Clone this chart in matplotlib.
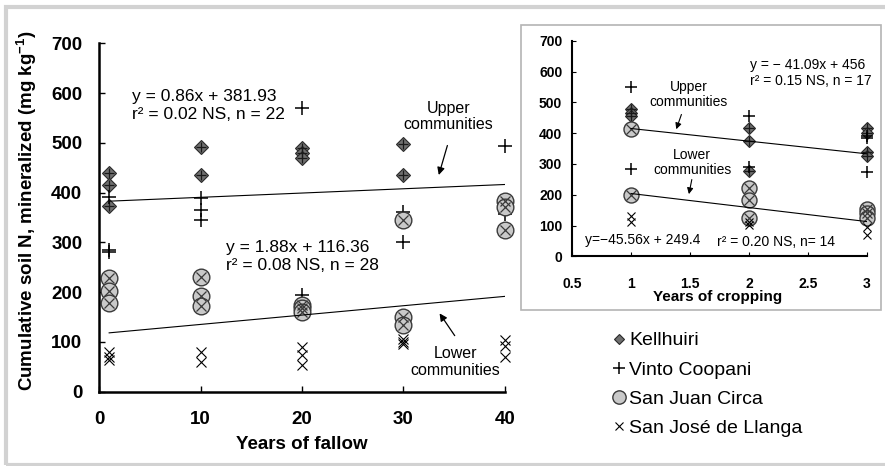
import matplotlib
matplotlib.use("Agg")
import matplotlib.pyplot as plt
from matplotlib.patches import Rectangle

plt.rcParams['font.family'] = ['Liberation Sans', 'DejaVu Sans']
plt.rcParams['mathtext.fontset'] = 'custom'
plt.rcParams['mathtext.rm'] = 'Liberation Sans'
plt.rcParams['mathtext.bf'] = 'Liberation Sans:bold'

# ---- fallow data (main panel) ----
kell_fallow_x = [1, 1, 1, 10, 10, 20, 20, 20, 30, 30]
kell_fallow_y = [440, 416, 373, 492, 435, 489, 480, 470, 498, 436]
vinto_fallow_x = [1, 1, 1, 10, 10, 10, 20, 20, 30, 30, 40, 40]
vinto_fallow_y = [392, 285, 280, 390, 366, 345, 571, 195, 362, 300, 494, 358]
juan_fallow_x = [1, 1, 1, 10, 10, 10, 20, 20, 20, 30, 30, 30, 40, 40, 40]
juan_fallow_y = [228, 203, 179, 230, 193, 172, 175, 168, 160, 345, 151, 134, 383, 372, 324]
jose_fallow_x = [1, 1, 1, 10, 10, 20, 20, 20, 30, 30, 30, 40, 40, 40]
jose_fallow_y = [80, 70, 63, 79, 59, 90, 74, 54, 105, 100, 95, 103, 92, 70]

# ---- cropping data (inset) ----
kell_crop_x = [1, 1, 1, 2, 2, 2, 3, 3, 3, 3]
kell_crop_y = [478, 466, 455, 416, 375, 277, 416, 400, 340, 326]
vinto_crop_x = [1, 1, 2, 2, 3, 3, 3]
vinto_crop_y = [549, 283, 456, 290, 391, 384, 275]
juan_crop_x = [1, 1, 2, 2, 2, 3, 3, 3]
juan_crop_y = [413, 199, 221, 183, 124, 155, 140, 125]
jose_crop_x = [1, 1, 2, 2, 3, 3]
jose_crop_y = [130, 112, 110, 102, 96, 69]

# regression fits (slope, intercept) as printed on the chart
fallow_upper = (0.86, 381.93)
fallow_lower = (1.88, 116.36)
fallow_range = [1, 40]
crop_upper = (-41.09, 456)
crop_lower = (-45.56, 249.4)
crop_range = [1, 3]

names = ['Kellhuiri', 'Vinto Coopani', 'San Juan Circa', 'San José de Llanga']


def draw_points(ax, kx, ky, vx, vy, jx, jy, sx, sy, s=1.0):
    kw = dict(ls='none', clip_on=False)
    h1, = ax.plot(kx, ky, 'D', ms=7 * s, mfc='#6f6f6f', mec='#2a2a2a', mew=0.8, **kw)
    ax.plot(kx, ky, '+', ms=7.5 * s, color='#1a1a1a', mew=0.9, **kw)
    h2, = ax.plot(vx, vy, '+', ms=10 * s, color='black', mew=1.1, **kw)
    h3, = ax.plot(jx, jy, 'o', ms=12 * s, mfc='#c9c9c9', mec='#3a3a3a', mew=1.0, **kw)
    ax.plot(jx, jy, 'x', ms=7.5 * s, color='#3a3a3a', mew=0.9, **kw)
    h4, = ax.plot(sx, sy, 'x', ms=7 * s, color='black', mew=0.8, **kw)
    return [h1, h2, h3, h4]


fig = plt.figure(figsize=(8.85, 4.66), dpi=100)

# outer frame and inset frame
fig.add_artist(Rectangle((5.5 / 885, 1.5 / 466), 1.2, 458 / 466, transform=fig.transFigure,
                         fill=False, ec='#d2d2d2', lw=3))
fig.add_artist(Rectangle((520.5 / 885, (466 - 310) / 466), 360.5 / 885, 285 / 466,
                         transform=fig.transFigure, fill=False, ec='#b4b4b4', lw=1.2))

# ---- main panel ----
ax = fig.add_axes([99 / 885, 74.3 / 466, 406 / 885, 348.4 / 466])
handles = draw_points(ax, kell_fallow_x, kell_fallow_y, vinto_fallow_x, vinto_fallow_y,
                      juan_fallow_x, juan_fallow_y, jose_fallow_x, jose_fallow_y)
for m, b in [fallow_upper, fallow_lower]:
    ax.plot(fallow_range, [m * x + b for x in fallow_range], color='black', lw=0.8)
ax.set_xlim(0, 40)
ax.set_ylim(0, 700)
ax.set_xticks([0, 10, 20, 30, 40])
ax.set_yticks(range(0, 701, 100))
for s in ['top', 'right']:
    ax.spines[s].set_visible(False)
for s in ['left', 'bottom']:
    ax.spines[s].set_linewidth(1.8)
ax.tick_params(axis='y', direction='in', length=4, width=1, pad=12, labelsize=13.5)
ax.tick_params(axis='x', direction='in', length=4, width=1, pad=14, labelsize=13.5)
for lab in ax.get_xticklabels() + ax.get_yticklabels():
    lab.set_fontweight('bold')
ax.set_xlabel('Years of fallow', fontsize=13.5, fontweight='bold')
ax.set_ylabel(r'Cumulative soil N, mineralized (mg kg$^{\mathbf{-1}}$)', fontsize=13.5,
              fontweight='bold')
ax.xaxis.set_label_coords(0.5, -0.128)
ax.yaxis.set_label_coords(-0.148, 0.52)

ax.text(3.25, 576, 'y = 0.86x + 381.93\nr² = 0.02 NS, n = 22', fontsize=12.5,
        va='center', ha='left', linespacing=1.25)
ax.text(12.5, 271, 'y = 1.88x + 116.36\nr² = 0.08 NS, n = 28', fontsize=12.5,
        va='center', ha='left', linespacing=1.25)
ax.annotate('', xy=(33.4, 430), xytext=(34.4, 500),
            arrowprops=dict(arrowstyle='-|>', color='black', lw=0.9, mutation_scale=11))
ax.text(34.4, 553, 'Upper\ncommunities', fontsize=11.5, ha='center', va='center',
        linespacing=1.15)
ax.annotate('', xy=(33.4, 162), xytext=(35.2, 108),
            arrowprops=dict(arrowstyle='-|>', color='black', lw=0.9, mutation_scale=11))
ax.text(35.1, 59, 'Lower\ncommunities', fontsize=11.5, ha='center', va='center',
        linespacing=1.15)

# ---- inset panel ----
ax2 = fig.add_axes([572 / 885, 209.7 / 466, 295 / 885, 215.6 / 466])
draw_points(ax2, kell_crop_x, kell_crop_y, vinto_crop_x, vinto_crop_y,
            juan_crop_x, juan_crop_y, jose_crop_x, jose_crop_y, s=0.9)
for m, b in [crop_upper, crop_lower]:
    ax2.plot(crop_range, [m * x + b for x in crop_range], color='black', lw=0.8)
ax2.set_xlim(0.5, 3)
ax2.set_ylim(0, 700)
ax2.set_xticks([0.5, 1, 1.5, 2, 2.5, 3])
ax2.set_xticklabels(['0.5', '1', '1.5', '2', '2.5', '3'])
ax2.set_yticks(range(0, 701, 100))
for s in ['top', 'right']:
    ax2.spines[s].set_visible(False)
for s in ['left', 'bottom']:
    ax2.spines[s].set_linewidth(1.5)
ax2.tick_params(axis='y', direction='in', length=3, width=0.8, pad=7, labelsize=10)
ax2.tick_params(axis='x', direction='in', length=3, width=0.8, pad=15, labelsize=10)
for lab in ax2.get_xticklabels() + ax2.get_yticklabels():
    lab.set_fontweight('bold')
ax2.set_xlabel('Years of cropping', fontsize=11, fontweight='bold')
ax2.xaxis.set_label_coords(0.495, -0.155)

ax2.text(2.01, 594, 'y = − 41.09x + 456\nr² = 0.15 NS, n = 17', fontsize=10,
         va='center', ha='left', linespacing=1.2)
ax2.text(0.61, 53, 'y=−45.56x + 249.4', fontsize=10, va='center', ha='left')
ax2.text(1.733, 46, 'r² = 0.20 NS, n= 14', fontsize=10, va='center', ha='left')
ax2.annotate('', xy=(1.376, 404), xytext=(1.435, 469),
             arrowprops=dict(arrowstyle='-|>', color='black', lw=0.8, mutation_scale=9))
ax2.text(1.486, 524, 'Upper\ncommunities', fontsize=10, ha='center', va='center',
         linespacing=1.1)
ax2.annotate('', xy=(1.486, 193), xytext=(1.52, 258),
             arrowprops=dict(arrowstyle='-|>', color='black', lw=0.8, mutation_scale=9))
ax2.text(1.52, 305, 'Lower\ncommunities', fontsize=10, ha='center', va='center',
         linespacing=1.1)

# ---- legend ----
fig.legend(handles, names, loc='upper left', bbox_to_anchor=(605 / 885, (466 - 324) / 466),
           frameon=False, fontsize=14, handlelength=0.6, handletextpad=0.25,
           labelspacing=0.6, markerscale=0.8, borderaxespad=0)

fig.savefig('out.png', dpi=100)
